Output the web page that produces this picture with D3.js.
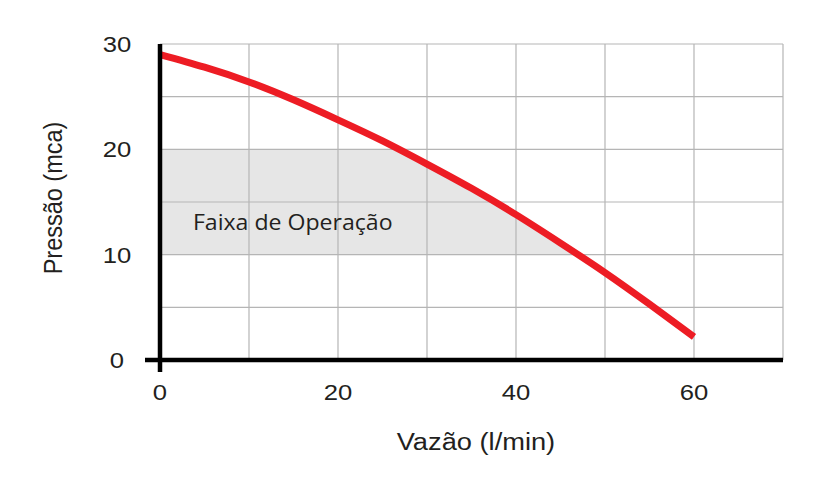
<!DOCTYPE html>
<html><head><meta charset="utf-8">
<script src="https://cdn.jsdelivr.net/npm/d3@7"></script>
<style>
html,body{margin:0;padding:0;background:#fff;}
svg{display:block;}
text{font-family:"Liberation Sans",Arial,sans-serif;fill:#231f20;}
</style></head>
<body>
<script>
// Data
const flow = [0, 5, 10, 15, 20, 25, 30, 35, 40, 45, 50, 55, 60];
const pressure = [29.0, 27.8, 26.4, 24.7, 22.8, 20.8, 18.6, 16.3, 13.8, 11.1, 8.3, 5.3, 2.2];
const xTicks = [0, 20, 40, 60];
const yTicks = [0, 10, 20, 30];
const xGrid = [10, 20, 30, 40, 50, 60, 70];
const yGrid = [5, 10, 15, 20, 25, 30];
const band = [10, 20];
const bandLabel = "Faixa de Operação";
const xTitle = "Vazão (l/min)";
const yTitle = "Pressão (mca)";

const W = 832, H = 477;
const svg = d3.select("body").append("svg").attr("width", W).attr("height", H);

const x = d3.scaleLinear().domain([0, 70]).range([160, 783]);
const y = d3.scaleLinear().domain([0, 30]).range([360, 44]);

const pts = flow.map((q, i) => [q, pressure[i]]);
const curve = d3.curveNatural;

// clip path: area under the pump curve
svg.append("clipPath").attr("id", "under")
  .append("path")
  .attr("d", d3.area().x(d => x(d[0])).y0(y(0)).y1(d => y(d[1])).curve(curve)(pts));

// operating band
svg.append("rect")
  .attr("clip-path", "url(#under)")
  .attr("x", x(0)).attr("width", x(70) - x(0))
  .attr("y", y(band[1])).attr("height", y(band[0]) - y(band[1]))
  .attr("fill", "#e6e6e6");

// grid
const g = svg.append("g").attr("stroke", "#b5b5b5").attr("stroke-width", 1.2);
g.selectAll(".vx").data(xGrid).join("line")
  .attr("x1", d => x(d)).attr("x2", d => x(d)).attr("y1", y(0)).attr("y2", y(30));
g.selectAll(".hy").data(yGrid).join("line")
  .attr("x1", x(0)).attr("x2", x(70)).attr("y1", d => y(d)).attr("y2", d => y(d));

// band label
svg.append("text")
  .attr("transform", `translate(${x(3.7)},${y(12.3)}) scale(1.1,1)`)
  .style("font-family", "'Open Sans',sans-serif")
  .style("font-size", "21px")
  .text(bandLabel);

// curve
svg.append("path")
  .attr("d", d3.line().x(d => x(d[0])).y(d => y(d[1])).curve(curve)(pts))
  .attr("fill", "none").attr("stroke", "#ed1c24").attr("stroke-width", 7);

// axes lines
svg.append("line").attr("x1", x(0)).attr("x2", x(0)).attr("y1", y(30)).attr("y2", y(0) + 12)
  .attr("stroke", "#000").attr("stroke-width", 4.5);
svg.append("line").attr("x1", x(0) - 15).attr("x2", x(70)).attr("y1", y(0)).attr("y2", y(0))
  .attr("stroke", "#000").attr("stroke-width", 4.5);

// tick labels
svg.selectAll(".xt").data(xTicks).join("text")
  .attr("transform", d => `translate(${x(d)},${y(0) + 40}) scale(1.14,1)`)
  .attr("text-anchor", "middle").style("font-size", "22.5px")
  .text(d => d);
svg.selectAll(".yt").data(yTicks).join("text")
  .attr("transform", d => `translate(117,${y(d) + 8}) scale(1.14,1)`)
  .attr("text-anchor", "middle").style("font-size", "22.5px")
  .text(d => d);

// axis titles
svg.append("text")
  .attr("transform", `translate(${x(35.5)},450) scale(1.16,1)`)
  .attr("text-anchor", "middle").style("font-size", "23.5px")
  .text(xTitle);
svg.append("text")
  .attr("transform", `translate(62,198) rotate(-90) scale(1,1.1)`)
  .attr("text-anchor", "middle").style("font-size", "23.5px")
  .text(yTitle);
</script>
</body></html>
